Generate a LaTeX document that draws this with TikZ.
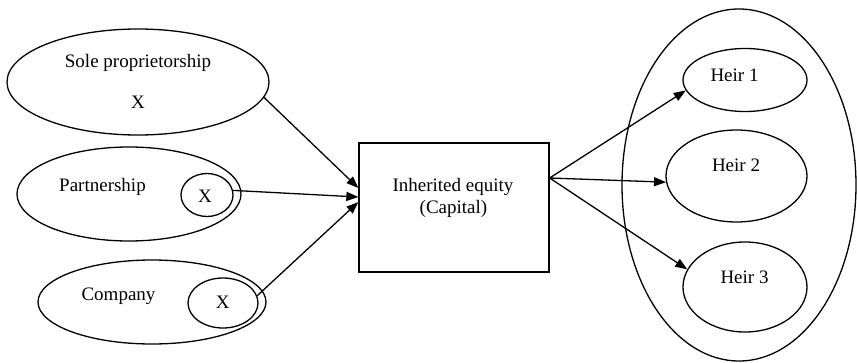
\documentclass[tikz,border=0pt]{standalone}
\usepackage{fontspec}
\setmainfont{Liberation Serif}
\usetikzlibrary{shapes.geometric,arrows.meta}
\begin{document}
\begin{tikzpicture}[x=1pt,y=1pt,
  shp/.style={draw,line width=1.3pt,ellipse,inner sep=0pt},
  txt/.style={font=\fontsize{19}{22}\selectfont,anchor=base,inner sep=0pt},
  arr/.style={line width=1.3pt,-{Triangle[length=12pt,width=9pt]}}]
\useasboundingbox (0,0) rectangle (857,362);
% left ellipses
\node[shp,minimum width=262pt,minimum height=106pt] (sole) at (138,280) {};
\node[txt] (soletxt) at (138,294) {Sole proprietorship};
\node[txt] (solex) at (138,253) {X};
\node[shp,minimum width=224pt,minimum height=94pt] (part) at (129,168) {};
\node[txt] (parttxt) at (102.5,170) {Partnership};
\node[shp,minimum width=52pt,minimum height=43pt] (px) at (207,167) {};
\node[txt] (pxt) at (205,159) {X};
\node[shp,minimum width=228pt,minimum height=84pt] (comp) at (152,60) {};
\node[txt] (comptxt) at (118.5,62) {Company};
\node[shp,minimum width=70pt,minimum height=50pt] (cx) at (223,59) {};
\node[txt] (cxt) at (222.7,54) {X};
% box
\node[draw,line width=1.3pt,minimum width=190pt,minimum height=129pt,inner sep=0pt] (box) at (454,154.5) {};
\node[txt] (boxt1) at (453,170) {Inherited equity};
\node[txt] (boxt2) at (453.5,149) {(Capital)};
% right ellipses
\node[shp,minimum width=234pt,minimum height=352pt] (heirs) at (739,177) {};
\node[shp,minimum width=124pt,minimum height=63pt] (h1) at (745,282) {};
\node[txt] (h1t) at (734.5,280) {Heir 1};
\node[shp,minimum width=141pt,minimum height=92pt] (h2) at (736.5,186) {};
\node[txt] (h2t) at (736,190) {Heir 2};
\node[shp,minimum width=124pt,minimum height=90pt] (h3) at (745,75) {};
\node[txt] (h3t) at (744.5,79) {Heir 3};
% arrows
\draw[arr] (sole.-7) -- ([yshift=19.5pt]box.west);
\draw[arr] (px.10) -- ([yshift=10.5pt]box.west);
\draw[arr] (cx.12) -- ([yshift=5.5pt]box.west);
\draw[arr] ([yshift=29.5pt]box.east) -- (h1.190);
\draw[arr] ([yshift=29.5pt]box.east) -- (h2.185);
\draw[arr] ([yshift=29.5pt]box.east) -- (h3.163);
\end{tikzpicture}
\end{document}
